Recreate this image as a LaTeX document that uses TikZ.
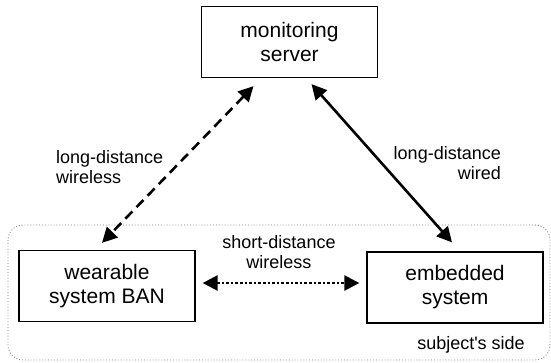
\documentclass[tikz,border=0pt]{standalone}
\usepackage{fontspec}
\setmainfont{Liberation Sans}
\usetikzlibrary{arrows.meta}

\begin{document}
\begin{tikzpicture}[x=1pt, y=-1pt,
    unit/.style={draw, line width=1.3pt, minimum width=176pt, minimum height=71pt,
        align=center, inner sep=0pt, font=\fontsize{21}{24}\selectfont},
    lbl/.style={inner sep=0pt, font=\fontsize{18}{20}\selectfont},
    link/.style={line width=2.6pt,
        {Triangle[length=15pt,width=15pt]}-{Triangle[length=15pt,width=15pt]}}]
    \useasboundingbox (0,0) rectangle (551,362);

    \draw [gray, dotted, line width=0.9pt, rounded corners=15pt] (8,225) rectangle (550,360);
    \node [lbl] (side) at (471,345) {subject\textquotesingle s side};

    \node [unit] (server) at (289.5,42) {monitoring\\server};
    \node [unit] (wearable) at (107,286) {wearable\\system BAN};
    \node [unit] (embedded) at (455,287.5) {embedded\\system};

    \draw [link, dash pattern=on 10pt off 6pt]
        ([xshift=-36pt, yshift=-8pt]server.south) -- ([xshift=-5pt, yshift=7pt]wearable.north);
    \draw [link] ([xshift=22pt, yshift=-6pt]server.south) -- ([xshift=-3pt, yshift=9pt]embedded.north);
    \draw [link, dash pattern=on 2.6pt off 2pt]
        ([xshift=7pt, yshift=3pt]wearable.east) -- ([xshift=-7pt, yshift=4.5pt]embedded.west);

    \node [lbl, anchor=west, align=left] (ldwireless) at (56,167) {long-distance\\wireless};
    \node [lbl, anchor=east, align=right] (ldwired) at (501,163) {long-distance\\wired};
    \node [lbl, align=center] (sdwireless) at (279,252) {short-distance\\wireless};
\end{tikzpicture}
\end{document}
